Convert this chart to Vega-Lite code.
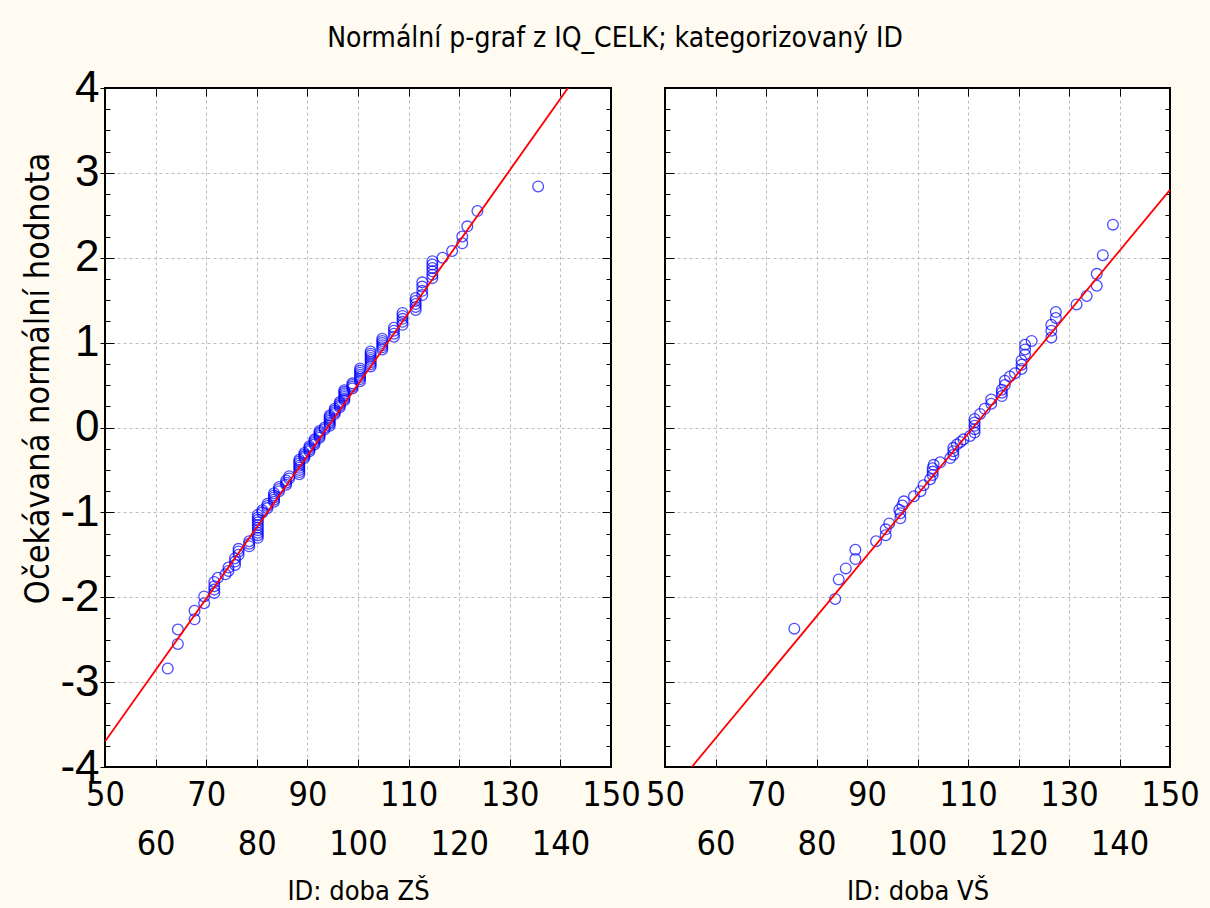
{
  "$schema": "https://vega.github.io/schema/vega-lite/v6.json",
  "autosize": {"type": "pad"},
  "padding": {"left": 20, "top": 25, "right": 10, "bottom": 10},
  "background": "#FFFBF0",
  "title": {"text": "Normální p-graf z IQ_CELK; kategorizovaný ID", "font": "Liberation Sans Narrow, DejaVu Sans Condensed, Liberation Sans, sans-serif", "fontSize": 28, "fontWeight": "normal", "color": "black", "anchor": "middle", "dx": 5, "offset": 12},
  "datasets": {
    "zs_pts": [
      {"x":62.4,"y":-2.84},{"x":64.4,"y":-2.55},{"x":64.4,"y":-2.38},{"x":67.7,"y":-2.26},{"x":67.7,"y":-2.16},
      {"x":69.6,"y":-2.07},{"x":69.6,"y":-1.99},{"x":71.6,"y":-1.95},{"x":71.6,"y":-1.91},{"x":71.6,"y":-1.87},
      {"x":71.6,"y":-1.82},{"x":72.3,"y":-1.77},{"x":73.8,"y":-1.73},{"x":74.4,"y":-1.69},{"x":74.4,"y":-1.65},
      {"x":75.7,"y":-1.62},{"x":75.7,"y":-1.58},{"x":75.7,"y":-1.54},{"x":76.4,"y":-1.50},{"x":76.4,"y":-1.46},
      {"x":76.4,"y":-1.43},{"x":78.5,"y":-1.40},{"x":78.5,"y":-1.37},{"x":78.5,"y":-1.34},{"x":80.2,"y":-1.30},
      {"x":80.2,"y":-1.27},{"x":80.2,"y":-1.24},{"x":80.2,"y":-1.21},{"x":80.2,"y":-1.18},{"x":80.2,"y":-1.15},
      {"x":80.2,"y":-1.12},{"x":80.2,"y":-1.09},{"x":80.2,"y":-1.06},{"x":80.2,"y":-1.03},{"x":81.1,"y":-1.00},
      {"x":81.1,"y":-0.975},{"x":82.1,"y":-0.95},{"x":82.1,"y":-0.925},{"x":82.1,"y":-0.90},{"x":83.4,"y":-0.875},
      {"x":83.4,"y":-0.85},{"x":83.4,"y":-0.825},{"x":83.4,"y":-0.80},{"x":83.4,"y":-0.775},{"x":84.4,"y":-0.75},
      {"x":84.4,"y":-0.725},{"x":84.4,"y":-0.70},{"x":85.8,"y":-0.675},{"x":85.8,"y":-0.65},{"x":85.8,"y":-0.625},
      {"x":86.4,"y":-0.60},{"x":86.4,"y":-0.575},{"x":88.4,"y":-0.55},{"x":88.4,"y":-0.525},{"x":88.4,"y":-0.50},
      {"x":88.4,"y":-0.475},{"x":88.4,"y":-0.45},{"x":88.4,"y":-0.425},{"x":88.4,"y":-0.40},{"x":88.4,"y":-0.38},
      {"x":89.4,"y":-0.36},{"x":89.4,"y":-0.34},{"x":89.4,"y":-0.32},{"x":89.4,"y":-0.30},{"x":90.4,"y":-0.28},
      {"x":90.4,"y":-0.26},{"x":90.4,"y":-0.24},{"x":90.4,"y":-0.22},{"x":91.4,"y":-0.20},{"x":91.4,"y":-0.18},
      {"x":91.4,"y":-0.16},{"x":91.4,"y":-0.14},{"x":92.4,"y":-0.12},{"x":92.4,"y":-0.10},{"x":92.4,"y":-0.08},
      {"x":92.4,"y":-0.06},{"x":92.4,"y":-0.04},{"x":93.4,"y":-0.02},{"x":93.4,"y":0.0},{"x":94.4,"y":0.02},
      {"x":94.4,"y":0.04},{"x":94.4,"y":0.06},{"x":94.4,"y":0.08},{"x":94.4,"y":0.10},{"x":94.4,"y":0.12},
      {"x":94.4,"y":0.14},{"x":95.4,"y":0.16},{"x":95.4,"y":0.18},{"x":95.4,"y":0.20},{"x":95.4,"y":0.22},
      {"x":96.4,"y":0.24},{"x":96.4,"y":0.26},{"x":96.4,"y":0.28},{"x":96.4,"y":0.30},{"x":97.3,"y":0.32},
      {"x":97.3,"y":0.34},{"x":97.3,"y":0.36},{"x":97.3,"y":0.38},{"x":97.3,"y":0.40},{"x":97.3,"y":0.42},
      {"x":97.3,"y":0.44},{"x":98.9,"y":0.46},{"x":98.9,"y":0.48},{"x":98.9,"y":0.50},{"x":98.9,"y":0.52},
      {"x":100.4,"y":0.545},{"x":100.4,"y":0.57},{"x":100.4,"y":0.595},{"x":100.4,"y":0.62},{"x":100.4,"y":0.645},
      {"x":100.4,"y":0.67},{"x":100.4,"y":0.695},{"x":102.5,"y":0.72},{"x":102.5,"y":0.745},{"x":102.5,"y":0.77},
      {"x":102.5,"y":0.795},{"x":102.5,"y":0.82},{"x":102.5,"y":0.845},{"x":102.5,"y":0.87},{"x":102.5,"y":0.895},
      {"x":104.8,"y":0.92},{"x":104.8,"y":0.945},{"x":104.8,"y":0.97},{"x":104.8,"y":0.995},{"x":104.8,"y":1.02},
      {"x":104.8,"y":1.045},{"x":107.1,"y":1.07},{"x":107.1,"y":1.105},{"x":107.1,"y":1.14},{"x":107.1,"y":1.175},
      {"x":108.8,"y":1.21},{"x":108.8,"y":1.245},{"x":108.8,"y":1.28},{"x":108.8,"y":1.315},{"x":108.8,"y":1.35},
      {"x":111.4,"y":1.385},{"x":111.4,"y":1.42},{"x":111.4,"y":1.455},{"x":111.4,"y":1.49},{"x":111.4,"y":1.525},
      {"x":112.7,"y":1.56},{"x":112.7,"y":1.61},{"x":112.7,"y":1.66},{"x":112.7,"y":1.71},{"x":114.7,"y":1.76},
      {"x":114.7,"y":1.80},{"x":114.7,"y":1.84},{"x":114.7,"y":1.88},{"x":114.7,"y":1.92},{"x":114.7,"y":1.96},
      {"x":116.7,"y":2.00},{"x":118.6,"y":2.08},{"x":120.6,"y":2.17},{"x":120.6,"y":2.25},{"x":121.6,"y":2.37},
      {"x":123.6,"y":2.55},{"x":135.6,"y":2.84}
    ],
    "vs_pts": [
      {"x":75.6,"y":-2.37},{"x":83.7,"y":-2.02},{"x":84.4,"y":-1.79},{"x":85.8,"y":-1.66},{"x":87.7,"y":-1.55},
      {"x":87.7,"y":-1.44},{"x":91.8,"y":-1.34},{"x":93.7,"y":-1.27},{"x":93.7,"y":-1.20},{"x":94.4,"y":-1.13},
      {"x":96.6,"y":-1.07},{"x":96.6,"y":-1.01},{"x":96.4,"y":-0.97},{"x":97.0,"y":-0.92},{"x":97.3,"y":-0.87},
      {"x":99.3,"y":-0.81},{"x":100.6,"y":-0.75},{"x":101.2,"y":-0.68},{"x":102.5,"y":-0.61},{"x":103.0,"y":-0.56},
      {"x":103.0,"y":-0.52},{"x":103.0,"y":-0.48},{"x":103.2,"y":-0.44},{"x":104.5,"y":-0.41},{"x":106.5,"y":-0.36},
      {"x":107.1,"y":-0.32},{"x":107.1,"y":-0.28},{"x":107.1,"y":-0.24},{"x":107.8,"y":-0.20},{"x":108.5,"y":-0.17},
      {"x":109.1,"y":-0.14},{"x":110.4,"y":-0.10},{"x":111.3,"y":-0.06},{"x":111.3,"y":-0.02},{"x":111.3,"y":0.02},
      {"x":111.3,"y":0.06},{"x":111.3,"y":0.10},{"x":112.4,"y":0.16},{"x":113.3,"y":0.22},{"x":114.6,"y":0.28},
      {"x":114.6,"y":0.33},{"x":116.7,"y":0.37},{"x":116.7,"y":0.41},{"x":116.7,"y":0.445},{"x":117.3,"y":0.50},
      {"x":117.3,"y":0.55},{"x":118.3,"y":0.60},{"x":119.3,"y":0.64},{"x":120.6,"y":0.69},{"x":120.6,"y":0.74},
      {"x":120.6,"y":0.79},{"x":121.3,"y":0.86},{"x":121.3,"y":0.92},{"x":121.3,"y":0.975},{"x":122.6,"y":1.02},
      {"x":126.5,"y":1.06},{"x":126.5,"y":1.14},{"x":126.5,"y":1.21},{"x":127.4,"y":1.29},{"x":127.4,"y":1.36},
      {"x":131.5,"y":1.45},{"x":133.5,"y":1.55},{"x":135.5,"y":1.67},{"x":135.5,"y":1.81},{"x":136.7,"y":2.03},
      {"x":138.7,"y":2.39}
    ],
    "zs_line": [{"x":50,"y":-3.70},{"x":141.5,"y":4.0}],
    "vs_line": [{"x":55.3,"y":-4.0},{"x":150,"y":2.80}]
  },
  "config": {
    "view": {"fill": "white", "stroke": "black", "strokeWidth": 2},
    "axis": {"gridColor": "#bcbcbc", "gridDash": [3, 3], "gridWidth": 1, "domain": false, "tickColor": "black", "labelColor": "black", "titleColor": "black", "titleFontWeight": "normal"}
  },
  "bounds": "flush",
  "spacing": 54,
  "hconcat": [
    {
      "width": 506, "height": 679,
      "layer": [
        {
          "data": {"name": "zs_pts"},
          "mark": {"type": "point", "shape": "circle", "filled": false, "color": "#0000FF", "size": 115, "strokeWidth": 1.3},
          "encoding": {
            "x": {"field": "x", "type": "quantitative", "scale": {"domain": [50, 150], "nice": false, "zero": false},
              "axis": {"orient": "bottom", "values": [50,60,70,80,90,100,110,120,130,140,150], "ticks": false,
                "labelFont": "Liberation Sans Narrow, DejaVu Sans Condensed, Liberation Sans, sans-serif", "labelFontSize": 34,
                "labelPadding": {"condition": {"test": "datum.value % 20 == 0", "value": 60}, "value": 11},
                "labelOverlap": false, "labelFlush": false, "labelBound": false,
                "grid": true, "gridOpacity": {"condition": {"test": "datum.value <= 50 || datum.value >= 150", "value": 0}, "value": 1},
                "title": "ID: doba ZŠ", "titleFont": "Liberation Sans Narrow, DejaVu Sans Condensed, Liberation Sans, sans-serif", "titleFontSize": 27,
                "titleY": 132, "titleBaseline": "alphabetic"}},
            "y": {"field": "y", "type": "quantitative", "scale": {"domain": [-4, 4], "nice": false, "zero": false},
              "axis": {"orient": "left", "values": [-4,-3,-2,-1,0,1,2,3,4], "tickSize": 5, "tickWidth": 1,
                "labelFont": "Liberation Sans, Arial, sans-serif", "labelFontSize": 44, "labelPadding": 1,
                "labelExpr": "datum.value < 0 ? '-' + (-datum.value) : '' + datum.value",
                "labelOverlap": false, "labelFlush": false, "labelBound": false,
                "grid": true, "gridOpacity": {"condition": {"test": "datum.value <= -4 || datum.value >= 4", "value": 0}, "value": 1},
                "title": "Očekávaná normální hodnota", "titleFont": "Liberation Sans Narrow, DejaVu Sans Condensed, Liberation Sans, sans-serif", "titleFontSize": 34,
                "titleX": -67, "titleY": 290, "titleAngle": -90, "titleAlign": "center", "titleBaseline": "middle"}}
          }
        },
        {
          "data": {"name": "zs_line"},
          "mark": {"type": "line", "color": "#FF0000", "strokeWidth": 1.8, "clip": true},
          "encoding": {
            "x": {"field": "x", "type": "quantitative", "scale": {"domain": [50, 150], "nice": false, "zero": false},
              "axis": {"orient": "top", "values": [60,70,80,90,100,110,120,130,140], "tickSize": -8, "labels": false, "grid": false, "domain": false, "title": null}},
            "y": {"field": "y", "type": "quantitative", "scale": {"domain": [-4, 4], "nice": false, "zero": false},
              "axis": {"orient": "right", "values": [-3.75,-3.5,-3.25,-3,-2.75,-2.5,-2.25,-2,-1.75,-1.5,-1.25,-1,-0.75,-0.5,-0.25,0,0.25,0.5,0.75,1,1.25,1.5,1.75,2,2.25,2.5,2.75,3,3.25,3.5,3.75],
                "tickSize": {"condition": {"test": "datum.value % 1 == 0", "value": -9}, "value": -5}, "labels": false, "grid": false, "domain": false, "title": null}}
          }
        },
        {
          "data": {"name": "zs_line"},
          "mark": {"type": "line", "opacity": 0},
          "encoding": {
            "x": {"field": "x", "type": "quantitative", "scale": {"domain": [50, 150], "nice": false, "zero": false},
              "axis": {"orient": "bottom", "values": [60,70,80,90,100,110,120,130,140], "tickSize": -8, "labels": false, "grid": false, "domain": false, "title": null}},
            "y": {"field": "y", "type": "quantitative", "scale": {"domain": [-4, 4], "nice": false, "zero": false},
              "axis": {"orient": "left", "values": [-3.75,-3.5,-3.25,-3,-2.75,-2.5,-2.25,-2,-1.75,-1.5,-1.25,-1,-0.75,-0.5,-0.25,0,0.25,0.5,0.75,1,1.25,1.5,1.75,2,2.25,2.5,2.75,3,3.25,3.5,3.75],
                "tickSize": {"condition": {"test": "datum.value % 1 == 0", "value": -9}, "value": -5}, "labels": false, "grid": false, "domain": false, "title": null}}
          }
        }
      ],
      "resolve": {"axis": {"x": "independent", "y": "independent"}}
    },
    {
      "width": 505, "height": 679,
      "layer": [
        {
          "data": {"name": "vs_pts"},
          "mark": {"type": "point", "shape": "circle", "filled": false, "color": "#0000FF", "size": 115, "strokeWidth": 1.3},
          "encoding": {
            "x": {"field": "x", "type": "quantitative", "scale": {"domain": [50, 150], "nice": false, "zero": false},
              "axis": {"orient": "bottom", "values": [50,60,70,80,90,100,110,120,130,140,150], "ticks": false,
                "labelFont": "Liberation Sans Narrow, DejaVu Sans Condensed, Liberation Sans, sans-serif", "labelFontSize": 34,
                "labelPadding": {"condition": {"test": "datum.value % 20 == 0", "value": 60}, "value": 11},
                "labelOverlap": false, "labelFlush": false, "labelBound": false,
                "grid": true, "gridOpacity": {"condition": {"test": "datum.value <= 50 || datum.value >= 150", "value": 0}, "value": 1},
                "title": "ID: doba VŠ", "titleFont": "Liberation Sans Narrow, DejaVu Sans Condensed, Liberation Sans, sans-serif", "titleFontSize": 27,
                "titleY": 132, "titleBaseline": "alphabetic"}},
            "y": {"field": "y", "type": "quantitative", "scale": {"domain": [-4, 4], "nice": false, "zero": false},
              "axis": {"orient": "left", "values": [-4,-3,-2,-1,0,1,2,3,4], "ticks": false, "labels": false,
                "grid": true, "gridOpacity": {"condition": {"test": "datum.value <= -4 || datum.value >= 4", "value": 0}, "value": 1},
                "title": null}}
          }
        },
        {
          "data": {"name": "vs_line"},
          "mark": {"type": "line", "color": "#FF0000", "strokeWidth": 1.8, "clip": true},
          "encoding": {
            "x": {"field": "x", "type": "quantitative", "scale": {"domain": [50, 150], "nice": false, "zero": false},
              "axis": {"orient": "top", "values": [60,70,80,90,100,110,120,130,140], "tickSize": -8, "labels": false, "grid": false, "domain": false, "title": null}},
            "y": {"field": "y", "type": "quantitative", "scale": {"domain": [-4, 4], "nice": false, "zero": false},
              "axis": {"orient": "right", "values": [-3.75,-3.5,-3.25,-3,-2.75,-2.5,-2.25,-2,-1.75,-1.5,-1.25,-1,-0.75,-0.5,-0.25,0,0.25,0.5,0.75,1,1.25,1.5,1.75,2,2.25,2.5,2.75,3,3.25,3.5,3.75],
                "tickSize": {"condition": {"test": "datum.value % 1 == 0", "value": -9}, "value": -5}, "labels": false, "grid": false, "domain": false, "title": null}}
          }
        },
        {
          "data": {"name": "vs_line"},
          "mark": {"type": "line", "opacity": 0},
          "encoding": {
            "x": {"field": "x", "type": "quantitative", "scale": {"domain": [50, 150], "nice": false, "zero": false},
              "axis": {"orient": "bottom", "values": [60,70,80,90,100,110,120,130,140], "tickSize": -8, "labels": false, "grid": false, "domain": false, "title": null}},
            "y": {"field": "y", "type": "quantitative", "scale": {"domain": [-4, 4], "nice": false, "zero": false},
              "axis": {"orient": "left", "values": [-3.75,-3.5,-3.25,-3,-2.75,-2.5,-2.25,-2,-1.75,-1.5,-1.25,-1,-0.75,-0.5,-0.25,0,0.25,0.5,0.75,1,1.25,1.5,1.75,2,2.25,2.5,2.75,3,3.25,3.5,3.75],
                "tickSize": {"condition": {"test": "datum.value % 1 == 0", "value": -9}, "value": -5}, "labels": false, "grid": false, "domain": false, "title": null}}
          }
        }
      ],
      "resolve": {"axis": {"x": "independent", "y": "independent"}}
    }
  ]
}
